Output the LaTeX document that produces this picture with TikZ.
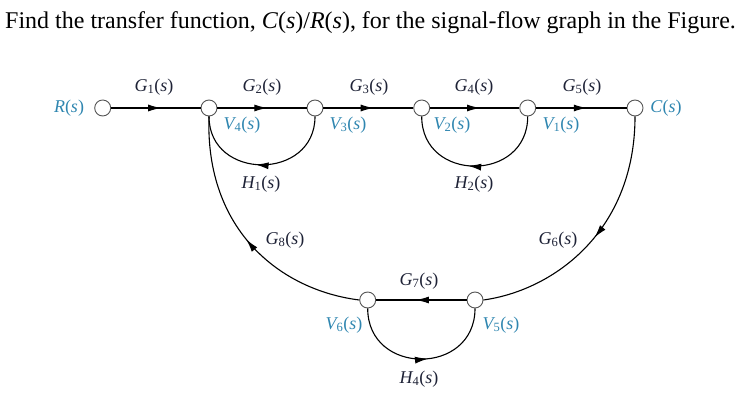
\documentclass[tikz,border=0pt]{standalone}
\usepackage{fontspec}
\setmainfont{Liberation Serif}
\usetikzlibrary{arrows.meta,decorations.markings}
\definecolor{vcol}{HTML}{2F86B0}
\definecolor{gcol}{HTML}{1E2236}
\definecolor{ncol}{HTML}{555555}
\newcommand{\lab}[2]{{\itshape #1}\textsubscript{#2}(\textit{s})}
\tikzset{
  sfnode/.style={circle, draw=ncol, fill=white, line width=0.9pt, minimum size=16pt, inner sep=0pt},
  glab/.style={text=gcol, font=\fontsize{18}{20}\selectfont, inner sep=0pt},
  vlab/.style={text=vcol, font=\fontsize{18}{20}\selectfont, inner sep=0pt},
  branch/.style={line width=1.1pt, postaction={decorate}, decoration={markings,
      mark=at position #1 with {\arrow{Latex[length=13pt,width=7pt]}}}},
  branch/.default=0.56
}
\begin{document}
\begin{tikzpicture}[x=1pt,y=-1pt]
\useasboundingbox (0,0) rectangle (743,411);
\node[anchor=base west, inner sep=0pt, font=\fontsize{24}{28}\selectfont] (title) at (5,29)
  {Find the transfer function, \textit{C}(\textit{s})/\textit{R}(\textit{s}), for the signal-flow graph in the Figure.};
% nodes
\node[sfnode] (R)  at (102.7,108) {};
\node[sfnode] (V4) at (209,108) {};
\node[sfnode] (V3) at (315,108) {};
\node[sfnode] (V2) at (421.7,108) {};
\node[sfnode] (V1) at (527.7,108) {};
\node[sfnode] (C)  at (635,108) {};
\node[sfnode] (V6) at (367.7,300) {};
\node[sfnode] (V5) at (475,300) {};
% forward branches
\draw[branch] (R) -- (V4);
\draw[branch] (V4) -- (V3);
\draw[branch] (V3) -- (V2);
\draw[branch] (V2) -- (V1);
\draw[branch] (V1) -- (C);
\draw[branch] (V5) -- (V6);
% loops
\draw[branch=0.54] (V3.south) .. controls (315,181) and (209,181) .. (V4.south);
\draw[branch=0.54] (V1.south) .. controls (527.7,182.7) and (421.7,182.7) .. (V2.south);
\draw[branch=0.54] (V6.south) .. controls (367.7,376) and (475,376) .. (V5.south);
\draw[branch=0.5] (V6.west) .. controls (280,290) and (205,230) .. (V4.south);
\draw[branch=0.5] (C.south) .. controls (635,230) and (555,290) .. (V5.east);
% labels
\node[glab] (g1) at (154,87) {\lab{G}{1}};
\node[glab] (g2) at (262,87) {\lab{G}{2}};
\node[glab] (g3) at (369,87) {\lab{G}{3}};
\node[glab] (g4) at (474,87) {\lab{G}{4}};
\node[glab] (g5) at (582,87) {\lab{G}{5}};
\node[glab] (h1) at (261,184) {\lab{H}{1}};
\node[glab] (h2) at (474,184) {\lab{H}{2}};
\node[glab] (g8) at (285,240) {\lab{G}{8}};
\node[glab] (g6) at (558,240) {\lab{G}{6}};
\node[glab] (g7) at (419,281) {\lab{G}{7}};
\node[glab] (h4) at (419,379) {\lab{H}{4}};
\node[vlab] (rl) at (69,108) {\textit{R}(\textit{s})};
\node[vlab] (cl) at (666,108) {\textit{C}(\textit{s})};
\node[vlab] (v4l) at (242,125) {\lab{V}{4}};
\node[vlab] (v3l) at (348,125) {\lab{V}{3}};
\node[vlab] (v2l) at (452,125) {\lab{V}{2}};
\node[vlab] (v1l) at (561,125) {\lab{V}{1}};
\node[vlab] (v6l) at (344,325) {\lab{V}{6}};
\node[vlab] (v5l) at (501,325) {\lab{V}{5}};
\end{tikzpicture}
\end{document}
